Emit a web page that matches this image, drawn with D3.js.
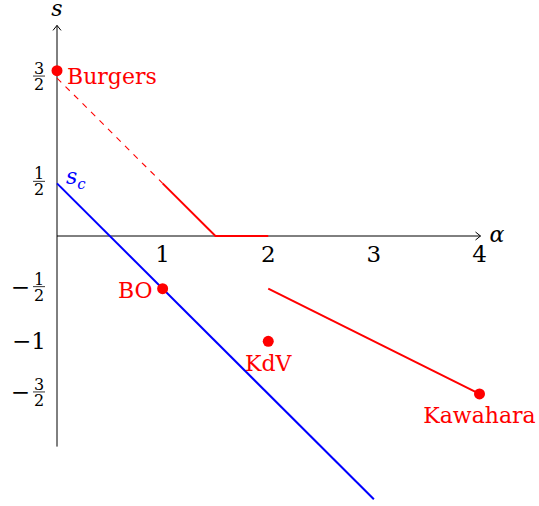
<!DOCTYPE html>
<html>
<head>
<meta charset="utf-8">
<script src="https://cdn.jsdelivr.net/npm/d3@7"></script>
<style>
  body { margin: 0; background: #fff; }
</style>
</head>
<body>
<div id="chart"></div>
<script>
var svgWidth = 539;
var svgHeight = 506;

// Data
var pointNames = ["Burgers", "BO", "KdV", "Kawahara"];
var pointAlpha = [0, 1, 2, 4];
var pointS = [1.57, -0.5, -1, -1.5];

var scLine = [[0, 0.5], [3, -2.5]];
var redDashed = [[0, 1.5], [1, 0.5]];
var redSolidA = [[1, 0.5], [1.5, 0], [2, 0]];
var redSolidB = [[2, -0.5], [4, -1.5]];

var xTicks = [1, 2, 3, 4];
var yTicks = [1.5, 0.5, -0.5, -1, -1.5];
var yTickLabels = [["", "3", "2"], ["", "1", "2"], ["−", "1", "2"], ["−1"], ["−", "3", "2"]];

var svg = d3.select("#chart")
  .append("svg")
  .attr("width", svgWidth)
  .attr("height", svgHeight)
  .attr("font-family", "DejaVu Serif");

var x = d3.scaleLinear().domain([0, 4]).range([57, 479.5]);
var y = d3.scaleLinear().domain([-2, 2]).range([446.6, 25.4]);

var line = d3.line()
  .x(d => x(d[0]))
  .y(d => y(d[1]));

// Axes (plain lines with open arrow heads)
svg.append("line")
  .attr("x1", x(0)).attr("y1", y(0))
  .attr("x2", x(4) + 1).attr("y2", y(0))
  .attr("stroke", "black").attr("stroke-width", 1);
svg.append("path")
  .attr("d", `M${x(4) - 4},${y(0) - 4} L${x(4) + 1},${y(0)} L${x(4) - 4},${y(0) + 4}`)
  .attr("fill", "none").attr("stroke", "black").attr("stroke-width", 1);

svg.append("line")
  .attr("x1", x(0)).attr("y1", y(-2))
  .attr("x2", x(0)).attr("y2", y(2))
  .attr("stroke", "black").attr("stroke-width", 1);
svg.append("path")
  .attr("d", `M${x(0) - 4},${y(2) + 5} L${x(0)},${y(2)} L${x(0) + 4},${y(2) + 5}`)
  .attr("fill", "none").attr("stroke", "black").attr("stroke-width", 1);

// Axis titles
svg.append("text")
  .attr("x", x(4) + 10).attr("y", y(0) + 6)
  .attr("font-size", "22px").attr("font-style", "italic")
  .text("α");
svg.append("text")
  .attr("x", x(0)).attr("y", 16)
  .attr("text-anchor", "middle")
  .attr("font-size", "22px").attr("font-style", "italic")
  .text("s");

// x tick labels
svg.selectAll(".xtick")
  .data(xTicks)
  .enter()
  .append("text")
  .attr("class", "xtick")
  .attr("x", d => x(d))
  .attr("y", y(0) + 26)
  .attr("text-anchor", "middle")
  .attr("font-size", "23px")
  .text(d => d);

// y tick labels (fractions)
yTicks.forEach(function(v, i) {
  var lab = yTickLabels[i];
  var g = svg.append("g")
    .attr("transform", `translate(39, ${y(v) - 2})`);
  if (lab.length === 1) {
    g.append("text")
      .attr("x", 7).attr("y", 10)
      .attr("text-anchor", "end")
      .attr("font-size", "23px")
      .text(lab[0]);
    return;
  }
  g.append("text")
    .attr("x", 0).attr("y", -2)
    .attr("text-anchor", "middle")
    .attr("font-size", "16px")
    .text(lab[1]);
  g.append("line")
    .attr("x1", -6).attr("x2", 6)
    .attr("y1", 0).attr("y2", 0)
    .attr("stroke", "black").attr("stroke-width", 0.8);
  g.append("text")
    .attr("x", 0).attr("y", 14)
    .attr("text-anchor", "middle")
    .attr("font-size", "16px")
    .text(lab[2]);
  if (lab[0]) {
    g.append("text")
      .attr("x", -9).attr("y", 8)
      .attr("text-anchor", "end")
      .attr("font-size", "23px")
      .text(lab[0]);
  }
});

// Critical line s_c
svg.append("path")
  .attr("d", line(scLine))
  .attr("fill", "none")
  .attr("stroke", "#0000ff")
  .attr("stroke-width", 2);

var scText = svg.append("text")
  .attr("x", x(0) + 9).attr("y", y(0.5) + 1)
  .attr("fill", "#0000ff")
  .attr("font-size", "22px")
  .attr("font-style", "italic");
scText.append("tspan").text("s");
scText.append("tspan").attr("dy", 5).attr("font-size", "15px").text("c");

// Red lines
svg.append("path")
  .attr("d", line(redDashed))
  .attr("fill", "none")
  .attr("stroke", "#ff0000")
  .attr("stroke-width", 1.1)
  .attr("stroke-dasharray", "6,6");

[redSolidA, redSolidB].forEach(function(seg) {
  svg.append("path")
    .attr("d", line(seg))
    .attr("fill", "none")
    .attr("stroke", "#ff0000")
    .attr("stroke-width", 2);
});

// Equation points
svg.selectAll(".pt")
  .data(pointNames)
  .enter()
  .append("circle")
  .attr("class", "pt")
  .attr("cx", (d, i) => x(pointAlpha[i]))
  .attr("cy", (d, i) => y(pointS[i]))
  .attr("r", 5.5)
  .attr("fill", "#ff0000");

// Point labels: right, left, below, below
var labelDx = [10, -10, 0, 0];
var labelDy = [13, 9, 30, 29];
var labelAnchor = ["start", "end", "middle", "middle"];

svg.selectAll(".ptlabel")
  .data(pointNames)
  .enter()
  .append("text")
  .attr("class", "ptlabel")
  .attr("x", (d, i) => x(pointAlpha[i]) + labelDx[i])
  .attr("y", (d, i) => y(pointS[i]) + labelDy[i])
  .attr("text-anchor", (d, i) => labelAnchor[i])
  .attr("font-size", "22px")
  .attr("fill", "#ff0000")
  .text(d => d);
</script>
</body>
</html>
